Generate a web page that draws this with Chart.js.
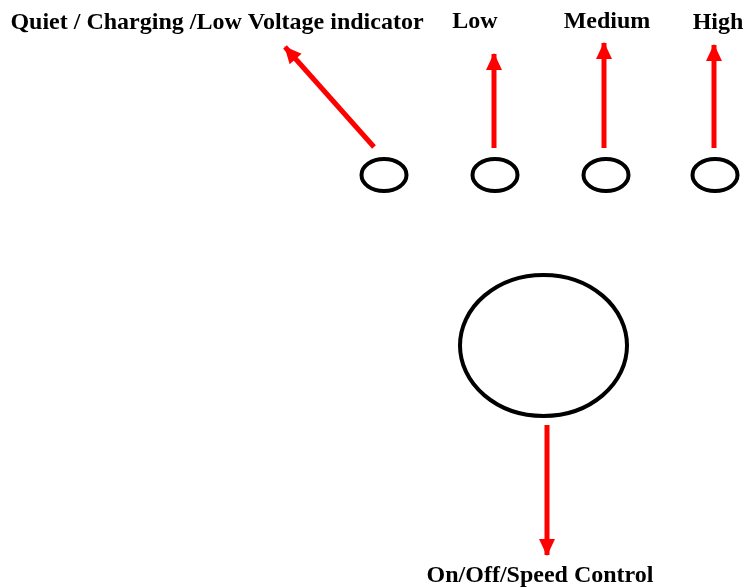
<!DOCTYPE html>
<html>
<head>
<meta charset="utf-8">
<script src="https://cdn.jsdelivr.net/npm/chart.js@4.4.1/dist/chart.umd.min.js"></script>
<style>
  html, body { margin: 0; padding: 0; background: #fff; }
  canvas { display: block; }
</style>
</head>
<body>
<canvas id="diagram" width="746" height="587"></canvas>
<script>
// panel coordinates (same units as the picture, y grows downward)
var ledNames = ['Quiet', 'Low', 'Medium', 'High'];
var ledX = [384, 495, 606, 715];
var ledY = [175, 175, 175, 175];
var ledRX = [22.5, 22.5, 22.5, 22.5];
var ledRY = [16, 16, 16, 16];

var knobX = [543.5];
var knobY = [345.5];
var knobRX = [83.5];
var knobRY = [70.5];

// arrows: tail -> tip
var arrowFromX = [374, 494, 604, 714, 547];
var arrowFromY = [147, 148, 148, 148, 425];
var arrowToX = [285, 494, 604, 714, 547];
var arrowToY = [47, 54, 43, 45, 555];

var labelText = ['Quiet / Charging /Low Voltage indicator', 'Low', 'Medium', 'High', 'On/Off/Speed Control'];
var labelX = [217, 475, 607, 718, 540];
var labelY = [29, 28, 28, 29, 582];

const RED = 'rgb(255, 0, 0)';
const HEAD_LEN = 16;
const HEAD_HALF = 8;

var arrowDatasets = arrowFromX.map(function (fx, i) {
    return {
        label: 'arrow' + i,
        data: [{x: fx, y: arrowFromY[i]}, {x: arrowToX[i], y: arrowToY[i]}],
        showLine: true,
        borderColor: RED,
        borderWidth: 5,
        borderCapStyle: 'butt',
        pointRadius: 0,
        pointHoverRadius: 0
    };
});

function drawEllipses(chart, xs, ys, rxs, rys) {
    const ctx = chart.ctx;
    const sx = chart.scales.x, sy = chart.scales.y;
    ctx.save();
    ctx.strokeStyle = '#000';
    ctx.lineWidth = 4;
    for (let i = 0; i < xs.length; i++) {
        const cx = sx.getPixelForValue(xs[i]);
        const cy = sy.getPixelForValue(ys[i]);
        const rx = Math.abs(sx.getPixelForValue(xs[i] + rxs[i]) - cx);
        const ry = Math.abs(sy.getPixelForValue(ys[i] + rys[i]) - cy);
        ctx.beginPath();
        ctx.ellipse(cx, cy, rx, ry, 0, 0, Math.PI * 2);
        ctx.stroke();
    }
    ctx.restore();
}

var panelPlugin = {
    id: 'panel',
    afterDatasetsDraw: function (chart) {
        const ctx = chart.ctx;
        const sx = chart.scales.x, sy = chart.scales.y;

        drawEllipses(chart, ledX, ledY, ledRX, ledRY);
        drawEllipses(chart, knobX, knobY, knobRX, knobRY);

        // arrow heads at the last point of every arrow
        ctx.save();
        ctx.fillStyle = RED;
        chart.data.datasets.forEach(function (ds, i) {
            const pts = chart.getDatasetMeta(i).data;
            const a = pts[0], b = pts[1];
            const ang = Math.atan2(b.y - a.y, b.x - a.x);
            const bx = b.x - Math.cos(ang) * HEAD_LEN;
            const by = b.y - Math.sin(ang) * HEAD_LEN;
            ctx.beginPath();
            ctx.moveTo(b.x + Math.cos(ang) * 1, b.y + Math.sin(ang) * 1);
            ctx.lineTo(bx - Math.sin(ang) * HEAD_HALF, by + Math.cos(ang) * HEAD_HALF);
            ctx.lineTo(bx + Math.sin(ang) * HEAD_HALF, by - Math.cos(ang) * HEAD_HALF);
            ctx.closePath();
            ctx.fill();
        });
        ctx.restore();

        // labels
        ctx.save();
        ctx.fillStyle = '#000';
        ctx.font = 'bold 24px "Liberation Serif", "Times New Roman", serif';
        ctx.textAlign = 'center';
        ctx.textBaseline = 'alphabetic';
        labelText.forEach(function (t, i) {
            ctx.fillText(t, sx.getPixelForValue(labelX[i]), sy.getPixelForValue(labelY[i]));
        });
        ctx.restore();
    }
};

var diagram = new Chart(document.getElementById('diagram'), {
    type: 'scatter',
    data: {datasets: arrowDatasets},
    options: {
        responsive: false,
        animation: false,
        events: [],
        layout: {padding: 0},
        plugins: {
            legend: {display: false},
            tooltip: {enabled: false}
        },
        scales: {
            x: {type: 'linear', min: 0, max: 746, display: false},
            y: {type: 'linear', min: 0, max: 587, reverse: true, display: false}
        }
    },
    plugins: [panelPlugin]
});
</script>
</body>
</html>
